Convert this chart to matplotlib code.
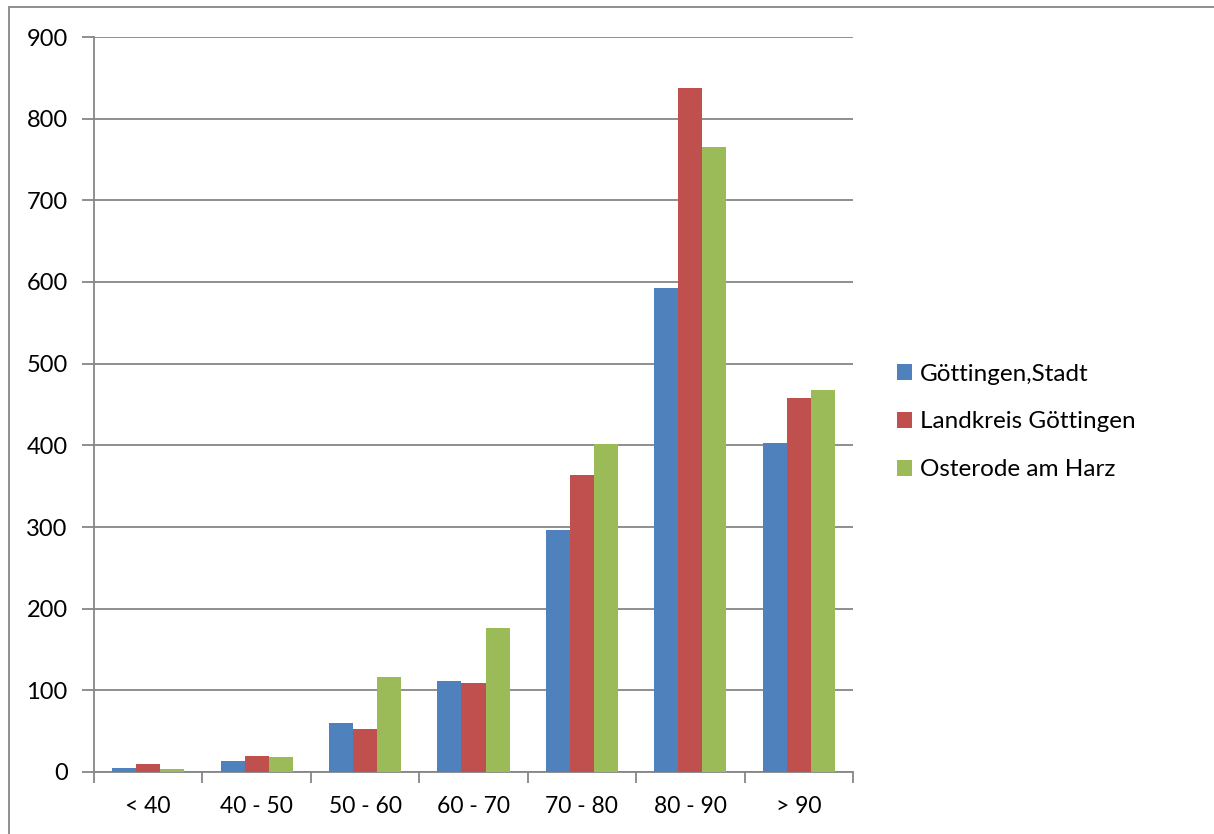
import matplotlib
matplotlib.use("Agg")
import matplotlib.pyplot as plt
import numpy as np
from matplotlib.patches import Rectangle

CATEGORIES = ["< 40", "40 - 50", "50 - 60", "60 - 70", "70 - 80", "80 - 90", "> 90"]
SERIES = ["Göttingen,Stadt", "Landkreis Göttingen", "Osterode am Harz"]
STADT = [5, 14, 60, 111, 296, 593, 403]
LANDKREIS = [10, 19, 53, 109, 364, 837, 458]
OSTERODE = [4, 18, 116, 176, 402, 765, 468]
COLORS = ["#4F81BD", "#C0504D", "#9BBB59"]
GRID = "#868686"

plt.rcParams["font.family"] = ["Lato", "DejaVu Sans"]

fig = plt.figure(figsize=(12.14, 8.34), dpi=100)
ax = fig.add_axes([94 / 1214, 1 - 772 / 834, (853 - 94) / 1214, (772 - 37) / 834])

# outer chart-area frame
fig.patches.append(Rectangle((9 / 1214, -0.01), 1.01, 1 - 7 / 834 + 0.01, transform=fig.transFigure,
                             fill=False, ec=GRID, lw=1.3))

x = np.arange(len(CATEGORIES))
w = 0.222
for k, (vals, name) in enumerate(zip([STADT, LANDKREIS, OSTERODE], SERIES)):
    ax.bar(x + (k - 1) * w, vals, w, color=COLORS[k], label=name, zorder=3)

ax.set_xlim(-0.5, len(CATEGORIES) - 0.5)
ax.set_ylim(0, 900)
ax.set_yticks(np.arange(0, 901, 100))
ax.yaxis.grid(True, color=GRID, lw=1.3, zorder=0)
ax.set_axisbelow(True)

ax.set_xticks(x)
ax.set_xticklabels(CATEGORIES, fontsize=16.5)
ax.set_xticks(np.arange(-0.5, len(CATEGORIES), 1), minor=True)
ax.tick_params(axis="x", which="major", length=0, pad=17)
ax.tick_params(axis="x", which="minor", length=8, width=1.3, color=GRID, direction="out")
ax.tick_params(axis="y", length=9, width=1.3, color=GRID, labelsize=17, pad=10)

for side in ["top", "right"]:
    ax.spines[side].set_visible(False)
for side in ["left", "bottom"]:
    ax.spines[side].set_color(GRID)
    ax.spines[side].set_linewidth(1.3)

leg = fig.legend(loc="center left", bbox_to_anchor=(875 / 1214, 1 - 422 / 834), frameon=False,
                 fontsize=17.5, handlelength=0.64, handleheight=0.64, handletextpad=0.3,
                 labelspacing=1.1)

fig.savefig("out.png", dpi=100)
